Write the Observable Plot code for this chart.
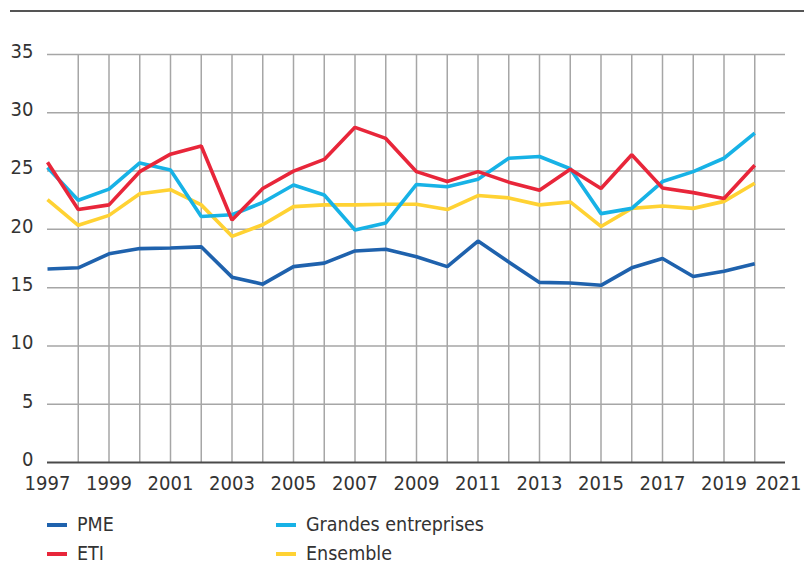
<!DOCTYPE html>
<html>
<head>
<meta charset="utf-8">
<script src="https://cdn.jsdelivr.net/npm/d3@7"></script>
<script src="https://cdn.jsdelivr.net/npm/@observablehq/plot@0.6"></script>
<style>
  html, body { margin: 0; padding: 0; background: #fff; }
  #wrap { position: relative; width: 804px; height: 565px; font-family: "DejaVu Sans Condensed", "DejaVu Sans", sans-serif; font-stretch: condensed; color: #333; }
  #rule { position: absolute; top: 10px; left: 10px; right: 0; border-top: 2px solid #555; }
  #chart { position: absolute; top: 0; left: 0; }
  #legend { position: absolute; top: 515px; left: 0; width: 804px; }
  .item { position: absolute; height: 20px; line-height: 20px; font-size: 19.5px; white-space: nowrap; }
  .sw { display: inline-block; width: 20px; height: 4px; vertical-align: middle; margin-right: 10px; position: relative; top: -1px; }
</style>
</head>
<body>
<div id="wrap">
  <div id="rule"></div>
  <div id="chart"></div>
  <div id="legend"></div>
</div>
<script>
const years = [1997,1998,1999,2000,2001,2002,2003,2004,2005,2006,2007,2008,2009,2010,2011,2012,2013,2014,2015,2016,2017,2018,2019,2020];
const pme = [16.6,16.7,17.9,18.35,18.4,18.5,15.9,15.3,16.8,17.1,18.15,18.3,17.65,16.8,19.0,17.2,15.45,15.4,15.2,16.7,17.5,15.95,16.4,17.05];
const eti = [25.75,21.7,22.1,24.95,26.45,27.15,20.8,23.5,25.0,26.0,28.75,27.8,24.95,24.1,24.95,24.05,23.35,25.15,23.5,26.4,23.55,23.15,22.65,25.5];
const grandes = [25.3,22.5,23.45,25.7,25.1,21.1,21.25,22.3,23.8,22.95,19.95,20.55,23.85,23.65,24.3,26.1,26.25,25.2,21.35,21.8,24.1,24.95,26.1,28.25];
const ensemble = [22.55,20.35,21.2,23.05,23.4,22.1,19.4,20.4,21.95,22.1,22.1,22.15,22.15,21.7,22.9,22.7,22.1,22.35,20.25,21.8,22.0,21.8,22.4,23.95];

const seriesNames = ["PME", "ETI", "Grandes entreprises", "Ensemble"];
const seriesColors = ["#1f62ad", "#e8263a", "#17b2e6", "#ffd233"];
const xTickLabels = [1997,1999,2001,2003,2005,2007,2009,2011,2013,2015,2017,2019];
const xLastLabel = [2021];
const xGridYears = [1998,1999,2000,2001,2002,2003,2004,2005,2006,2007,2008,2009,2010,2011,2012,2013,2014,2015,2016,2017,2018,2019,2020];
const yTicks = [0,5,10,15,20,25,30,35];

const valuesBySeries = {"PME": pme, "ETI": eti, "Grandes entreprises": grandes, "Ensemble": ensemble};
const table = seriesNames.flatMap(name => years.map((y, i) => ({series: name, year: y, value: valuesBySeries[name][i]})));
const drawOrder = ["PME", "Ensemble", "Grandes entreprises", "ETI"];

const font = '"DejaVu Sans Condensed", "DejaVu Sans", sans-serif';

const chart = Plot.plot({
  width: 804,
  height: 500,
  marginLeft: 47,
  marginRight: 19,
  marginTop: 54,
  marginBottom: 38,
  style: {fontFamily: font, fontSize: "20px", color: "#333", background: "transparent", fontStretch: "condensed"},
  x: {domain: [1997, 2021]},
  y: {domain: [0, 35]},
  color: {domain: seriesNames, range: seriesColors},
  marks: [
    Plot.gridX(xGridYears, {stroke: "#a6a6a6", strokeOpacity: 1, strokeWidth: 1.5}),
    Plot.gridY(yTicks.filter(d => d > 0), {stroke: "#a6a6a6", strokeOpacity: 1, strokeWidth: 1.5}),
    Plot.ruleY([0], {stroke: "#4a4a4a", strokeWidth: 2}),
    Plot.axisX(xTickLabels, {tickSize: 0, tickPadding: 13, tickFormat: "d", label: null, fontSize: 20, fill: "#333"}),
    Plot.axisX(xLastLabel, {tickSize: 0, tickPadding: 13, tickFormat: "d", label: null, fontSize: 20, fill: "#333", dx: -7}),
    Plot.axisY(yTicks, {tickSize: 0, tickPadding: 14, label: null, fontSize: 20, dy: -3, fill: "#333"}),
    ...drawOrder.map(name => Plot.line(table.filter(d => d.series === name), {
      x: "year", y: "value", stroke: "series", strokeWidth: 3.6, strokeLinejoin: "miter", strokeLinecap: "butt"
    }))
  ]
});
document.getElementById("chart").appendChild(chart);

const legendPos = [
  {name: "PME", left: 47, top: 0},
  {name: "Grandes entreprises", left: 276, top: 0},
  {name: "ETI", left: 47, top: 29},
  {name: "Ensemble", left: 276, top: 29}
];
const legend = document.getElementById("legend");
legendPos.forEach(p => {
  const el = document.createElement("div");
  el.className = "item";
  el.style.left = p.left + "px";
  el.style.top = p.top + "px";
  const sw = document.createElement("span");
  sw.className = "sw";
  sw.style.background = seriesColors[seriesNames.indexOf(p.name)];
  el.appendChild(sw);
  el.appendChild(document.createTextNode(p.name));
  legend.appendChild(el);
});
</script>
</body>
</html>
